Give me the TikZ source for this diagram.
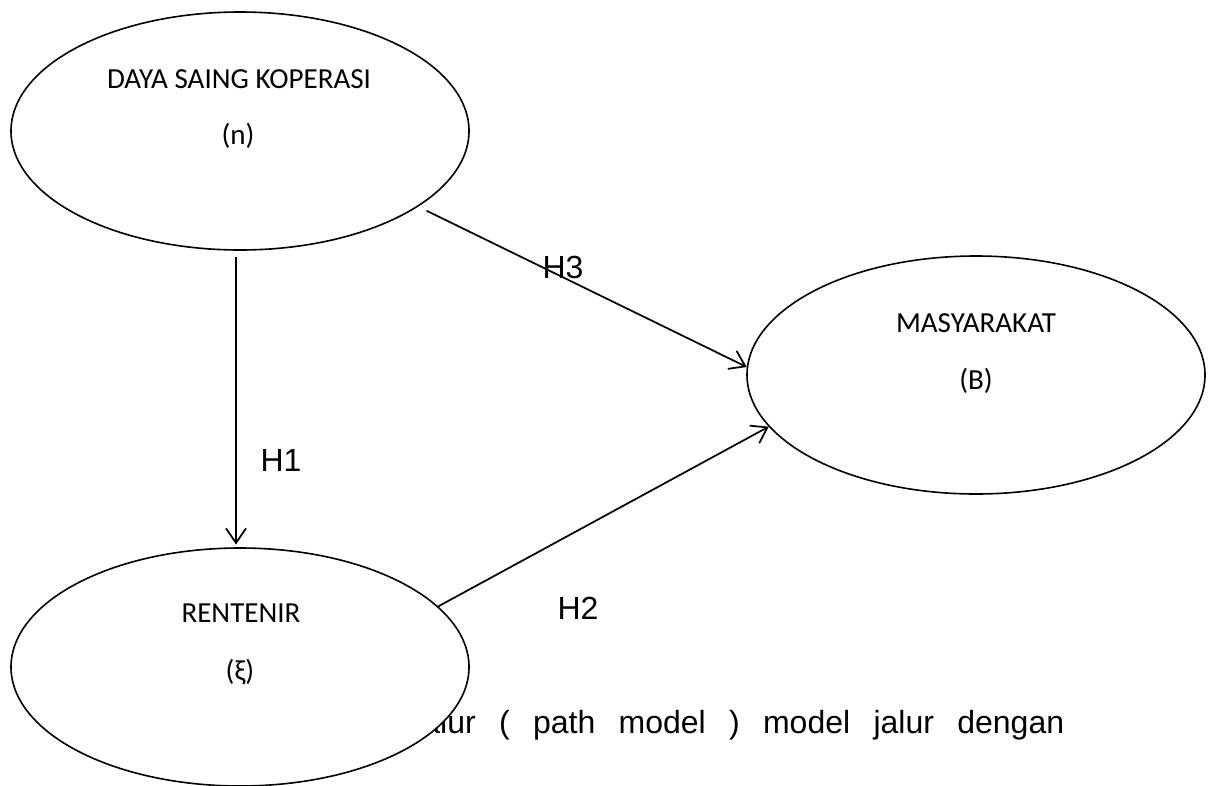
\documentclass[tikz,border=0pt]{standalone}
\usepackage{fontspec}
\setmainfont{Liberation Sans}
\newfontfamily\calfont{Carlito}
\usetikzlibrary{shapes.geometric,arrows.meta}
\begin{document}
\begin{tikzpicture}[x=0.75pt,y=-0.75pt,
  latent/.style={ellipse,draw,line width=1.2pt,fill=white,minimum width=343.5pt,minimum height=178.5pt,inner sep=0pt},
  lbl/.style={font=\calfont\fontsize{21.8}{26}\selectfont,anchor=base,inner sep=0pt},
  hlbl/.style={font=\fontsize{24}{28}\selectfont,inner sep=0pt},
  conn/.style={line width=1.3pt,-{Straight Barb[length=11pt,width=15pt,line width=1.3pt]}}]
\useasboundingbox (0,0) rectangle (1209,785);
% caption line (partly hidden behind the ellipse)
\node[hlbl,anchor=base west] (cap) at (415,733) {\spaceskip=17.5pt\relax jalur ( path model ) model jalur dengan};
% latent variables
\node[latent] (dsk) at (240,131) {};
\node[latent] (rent) at (240,667) {};
\node[latent] (mas) at (976,375) {};
\node[lbl] (dskA) at (239,88) {DAYA SAING KOPERASI};
\node[lbl] (dskB) at (238,144) {(n)};
\node[lbl] (rentA) at (241,622) {RENTENIR};
\node[lbl] (rentB) at (240,680) {(ξ)};
\node[lbl] (masA) at (976,332) {MASYARAKAT};
\node[lbl] (masB) at (976,389) {(B)};
% paths
\draw[conn,shorten <=5pt,shorten >=2pt] ([xshift=-3pt]dsk.south) -- ([xshift=-3pt]rent.north);
\draw[conn,shorten <=7pt] (dsk.-23.4) -- (mas.178);
\draw[conn] (rent.17.5) -- (mas.194);
\node[hlbl] (h1) at (281,460) {H1};
\node[hlbl] (h3) at (563,267) {H3};
\node[hlbl] (h2) at (578,608) {H2};
\end{tikzpicture}
\end{document}
